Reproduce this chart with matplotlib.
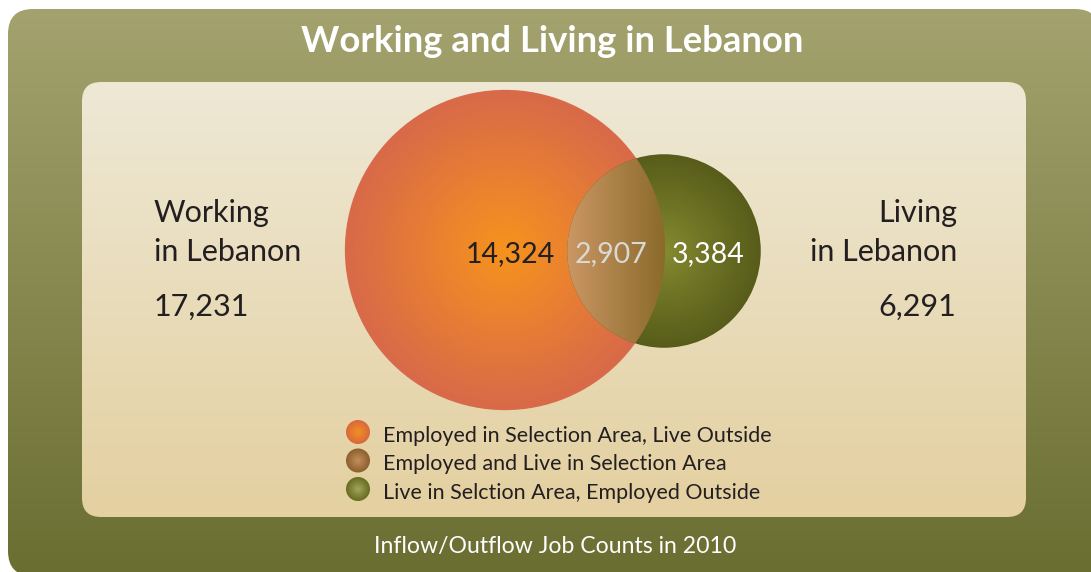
import numpy as np
import matplotlib.pyplot as plt
from matplotlib.patches import FancyBboxPatch, Circle
from matplotlib.colors import to_rgb

# --- DATA ---
TITLE = "Working and Living in Lebanon"
FOOTER = "Inflow/Outflow Job Counts in 2010"
work_label = ["Working", "in Lebanon"]
live_label = ["Living", "in Lebanon"]
work_total = 17231
live_total = 6291
region_values = [14324, 2907, 3384]   # work only, both, live only
legend_labels = [
    "Employed in Selection Area, Live Outside",
    "Employed and Live in Selection Area",
    "Live in Selction Area, Employed Outside",
]

# --- LAYOUT (pixels) ---
W, H = 1091, 572
FONT = "Lato"
DARK = "#231f20"
K = 1.22                        # radius = K * sqrt(count)
work_c = (505, 250)
live_c = (664, 251)

r_work = K * np.sqrt(work_total)
r_live = K * np.sqrt(live_total)


def mix(c0, c1, t):
    c0 = np.array(to_rgb(c0))
    c1 = np.array(to_rgb(c1))
    t = np.clip(t, 0, 1)[..., None]
    return c0 * (1 - t) + c1 * t


def grid(x0, x1, y0, y1):
    xs = np.arange(int(x0), int(np.ceil(x1))) + 0.5
    ys = np.arange(int(y0), int(np.ceil(y1))) + 0.5
    X, Y = np.meshgrid(xs, ys)
    return X, Y, (int(x0), int(np.ceil(x1)), int(np.ceil(y1)), int(y0))


def paint(ax, patch, img, extent, z):
    patch.set_facecolor("none")
    patch.set_edgecolor("none")
    patch.set_zorder(z)
    ax.add_patch(patch)
    im = ax.imshow(img, extent=extent, interpolation="bilinear", zorder=z, aspect="auto")
    im.set_clip_path(patch)
    return im


def radial_circle(ax, c, r, c_in, c_out, z, gamma=1.0):
    X, Y, ext = grid(c[0] - r - 1, c[0] + r + 1, c[1] - r - 1, c[1] + r + 1)
    t = np.hypot(X - c[0], Y - c[1]) / r
    paint(ax, Circle(c, r), mix(c_in, c_out, t ** gamma), ext, z)


fig = plt.figure(figsize=(W / 100, H / 100), dpi=100)
ax = fig.add_axes([0, 0, 1, 1])

# outer olive frame
X, Y, ext = grid(0, W, 0, H)
outer = FancyBboxPatch((8, 9), 1100 - 8, 576 - 9,
                       boxstyle="round,pad=0,rounding_size=25")
paint(ax, outer, mix("#a4a36f", "#6a6e31", (Y - 9) / (H - 9)), ext, 1)

# inner cream panel
X, Y, ext = grid(82, 1027, 82, 518)
inner = FancyBboxPatch((82, 82), 1026 - 82, 517 - 82,
                       boxstyle="round,pad=0,rounding_size=19")
paint(ax, inner, mix("#eee8d5", "#e4d0a0", (Y - 82) / (517 - 82)), ext, 2)

# circles
radial_circle(ax, work_c, r_work, "#f6931d", "#d8694a", 3)
radial_circle(ax, live_c, r_live, "#868c30", "#575c1a", 4, gamma=0.9)

# overlap: horizontal gradient, masked to the working circle
X, Y, ext = grid(live_c[0] - r_live - 1, live_c[0] + r_live + 1,
                 live_c[1] - r_live - 1, live_c[1] + r_live + 1)
x_l = live_c[0] - r_live
x_r = work_c[0] + r_work
rgb = mix("#cb9764", "#8a6a2b", (X - x_l) / (x_r - x_l))
alpha = np.clip(r_work - np.hypot(X - work_c[0], Y - work_c[1]) + 0.5, 0, 1)
paint(ax, Circle(live_c, r_live), np.dstack([rgb, alpha]), ext, 5)

# numbers in circles
num_x = [510, 611, 708]
num_col = [DARK, "#d9d9d6", "white"]
for v, x, col in zip(region_values, num_x, num_col):
    ax.text(x, 262, f"{v:,}", color=col, fontsize=20.5, family=FONT,
            ha="center", va="baseline", zorder=10)

# side labels
for i, s in enumerate(work_label):
    ax.text(154, 222 + 39 * i, s, color=DARK, fontsize=22, family=FONT,
            ha="left", va="baseline", zorder=10)
ax.text(154, 316, f"{work_total:,}", color=DARK, fontsize=22, family=FONT,
        ha="left", va="baseline", zorder=10)
for i, s in enumerate(live_label):
    ax.text(957, 222 + 39 * i, s, color=DARK, fontsize=22, family=FONT,
            ha="right", va="baseline", zorder=10)
ax.text(956, 316, f"{live_total:,}", color=DARK, fontsize=22, family=FONT,
        ha="right", va="baseline", zorder=10)

# legend
leg_cols = [("#f39020", "#d8683e"), ("#c48e5c", "#8a5f2e"), ("#a2a460", "#666c1e")]
for i, (lab, (ci, co)) in enumerate(zip(legend_labels, leg_cols)):
    yc = 432 + 28.5 * i
    radial_circle(ax, (358, yc), 12, ci, co, 6)
    ax.text(383, yc + 10, lab, color=DARK, fontsize=15.5, family=FONT,
            ha="left", va="baseline", zorder=10)

# title and footer
ax.text(552, 52, TITLE, color="white", fontsize=26.3, family=FONT, weight="bold",
        ha="center", va="baseline", zorder=10)
ax.text(555, 553, FOOTER, color="white", fontsize=16.6, family=FONT,
        ha="center", va="baseline", zorder=10)

ax.set_xlim(0, W)
ax.set_ylim(H, 0)
ax.axis("off")
fig.savefig("out.png", dpi=100, facecolor="white")
